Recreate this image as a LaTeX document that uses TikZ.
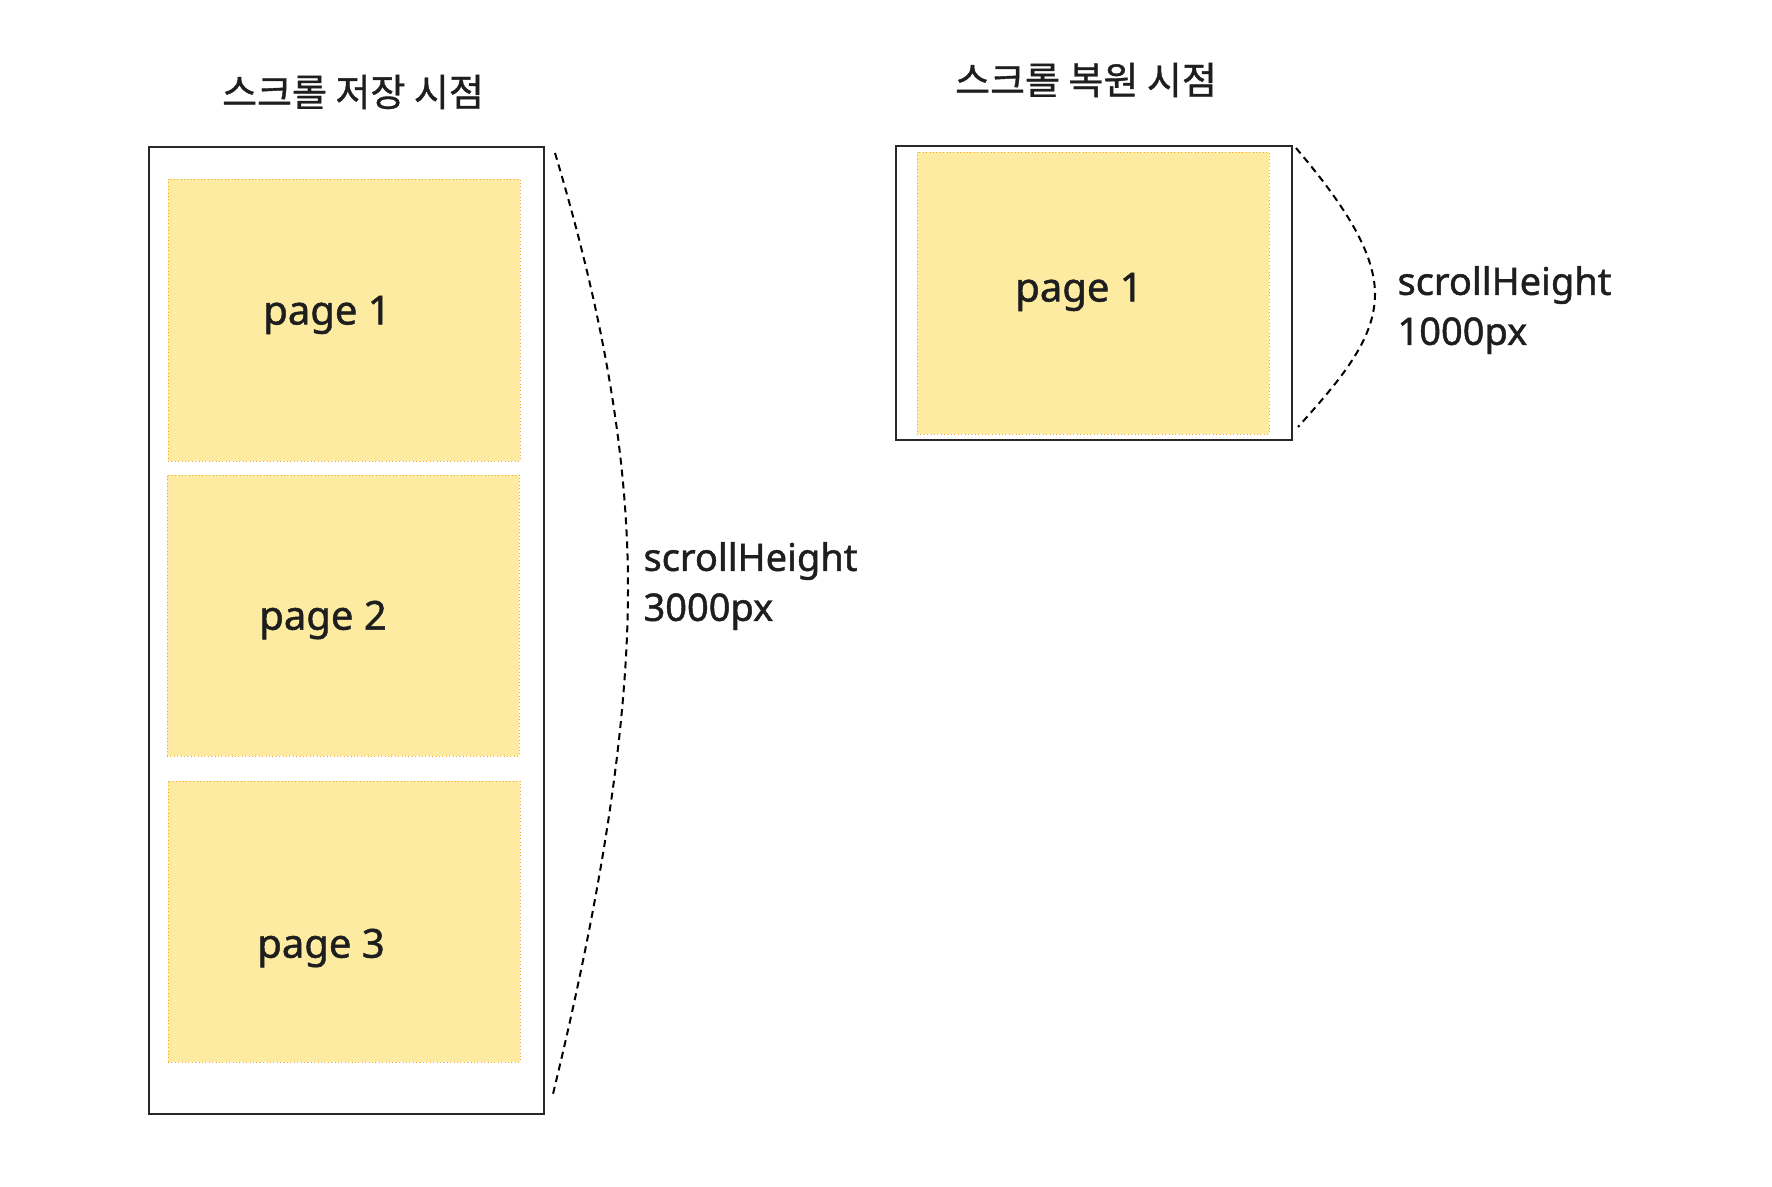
\documentclass[tikz,border=0pt]{standalone}
\usepackage{fontspec}
\setmainfont{Noto Sans}[FakeBold=1.2]
\newfontfamily\kr{Noto Sans CJK KR}[FakeBold=1]
\definecolor{pagefill}{RGB}{252,235,160}
\definecolor{pageedge}{RGB}{244,166,52}
\definecolor{frame}{RGB}{40,40,40}
\definecolor{ink}{RGB}{30,30,30}
\begin{document}
\begin{tikzpicture}[x=1pt,y=-1pt,
  framebox/.style={draw=frame,line width=2.4pt,fill=white,inner sep=0pt},
  pagebox/.style={draw=pageedge,line width=1pt,dash pattern=on 1pt off 2.4pt,fill=pagefill,inner sep=0pt},
  pagelabel/.style={text=ink,font=\fontsize{40}{44}\selectfont},
  title/.style={text=ink,font=\kr\fontsize{38}{44}\selectfont},
  sizelabel/.style={text=ink,align=left,anchor=west,font=\fontsize{38}{50}\selectfont},
  brace/.style={draw=black,line width=2pt,dash pattern=on 7pt off 5pt}]
\useasboundingbox (0,0) rectangle (1772,1186);
% left
\node[framebox,minimum width=395pt,minimum height=967pt] (outerL) at (346.5,630.5) {};
\node[pagebox,minimum width=352pt,minimum height=282pt] (p1) at (344,320) {};
\node[pagebox,minimum width=352pt,minimum height=281pt] (p2) at (343,615.5) {};
\node[pagebox,minimum width=352pt,minimum height=281pt] (p3) at (344,921.5) {};
\node[pagelabel] (l1) at (327,315) {page 1};
\node[pagelabel] (l2) at (323,620) {page 2};
\node[pagelabel] (l3) at (321,948) {page 3};
\node[title] (tL) at (353,92) {스크롤 저장 시점};
\coordinate (aL) at (555,153);
\coordinate (mL) at (628,588);
\coordinate (bL) at (553,1094);
\draw[brace] (aL) .. controls (605,320) and (628,460) .. (mL) .. controls (628,730) and (600,900) .. (bL);
\node[sizelabel] (sL) at (640,586) {scrollHeight\\3000px};
% right
\node[framebox,minimum width=396pt,minimum height=294pt] (outerR) at (1094,293) {};
\node[pagebox,minimum width=352pt,minimum height=282pt] (q1) at (1093,293) {};
\node[pagelabel] (m1) at (1079,292) {page 1};
\node[title] (tR) at (1086,80) {스크롤 복원 시점};
\coordinate (aR) at (1296,148);
\coordinate (mR) at (1375,294);
\coordinate (bR) at (1298,427);
\draw[brace] (aR) .. controls (1340,200) and (1375,250) .. (mR) .. controls (1375,340) and (1340,380) .. (bR);
\node[sizelabel] (sR) at (1394,310) {scrollHeight\\1000px};
\end{tikzpicture}
\end{document}
